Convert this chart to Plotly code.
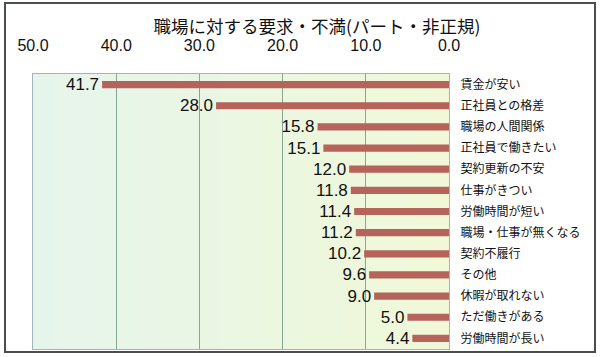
import plotly.graph_objects as go

categories = ["賃金が安い", "正社員との格差", "職場の人間関係", "正社員で働きたい", "契約更新の不安",
              "仕事がきつい", "労働時間が短い", "職場・仕事が無くなる", "契約不履行", "その他",
              "休暇が取れない", "ただ働きがある", "労働時間が長い"]
values = [41.7, 28.0, 15.8, 15.1, 12.0, 11.8, 11.4, 11.2, 10.2, 9.6, 9.0, 5.0, 4.4]
tick_vals = [50, 40, 30, 20, 10, 0]
tick_text = ["50.0", "40.0", "30.0", "20.0", "10.0", "0.0"]
title_text = "職場に対する要求・不満(パート・非正規)"

W, H = 600, 357
L, R, T, B = 33, 151, 74, 8
pw, ph = W - L - R, H - T - B

fig = go.Figure()
fig.add_trace(go.Bar(
    x=values, y=categories, orientation="h",
    marker=dict(color="#b5635b", line=dict(width=0)),
    width=0.34,
    text=[f"{v:.1f}" for v in values], textposition="outside",
    constraintext="none",
    textfont=dict(family="Liberation Sans, Arial", size=17, color="#111"),
    cliponaxis=False,
))

def px2paper_x(px):
    return (px - L) / pw

def px2paper_y(py):
    return 1 - (py - T) / ph

# background gradient (bluish-green left -> yellowish-green right)
c0 = (230, 245, 236)
c1 = (240, 248, 216)
n = 20
for i in range(n):
    t = i / (n - 1)
    col = tuple(round(c0[k] + (c1[k] - c0[k]) * t) for k in range(3))
    fig.add_shape(type="rect", xref="paper", yref="paper",
                  x0=i / n, x1=(i + 1) / n + 0.002, y0=0, y1=1,
                  line=dict(width=0), fillcolor="rgb(%d,%d,%d)" % col, layer="below")

fig.add_shape(type="rect", xref="paper", yref="paper",
              x0=px2paper_x(5), x1=px2paper_x(595), y0=px2paper_y(352), y1=px2paper_y(3),
              line=dict(color="#4a4f4c", width=2), fillcolor="rgba(0,0,0,0)", layer="above")

fig.update_layout(
    width=W, height=H,
    margin=dict(l=L, r=R, t=T, b=B),
    paper_bgcolor="white",
    plot_bgcolor="#eaf6e2",
    showlegend=False,
    title=dict(text=title_text, x=317 / W, xanchor="center",
               y=1 - 27 / H, yanchor="middle",
               font=dict(family="Noto Sans CJK JP", size=17.5, color="#111")),
    xaxis=dict(side="top", range=[50, 0], tickvals=tick_vals, ticktext=tick_text,
               showgrid=True, gridcolor="#86a592", gridwidth=1,
               zeroline=False, showline=True, linecolor="#9fb6bb", linewidth=1, mirror=True,
               ticks="", ticklabelstandoff=16,
               tickfont=dict(family="Liberation Sans, Arial", size=16, color="#111")),
    yaxis=dict(side="right", autorange="reversed", showgrid=False, zeroline=False,
               showline=True, linecolor="#9fb6bb", linewidth=1, mirror=True,
               ticks="", ticklabelstandoff=8,
               tickfont=dict(family="Noto Sans CJK JP", size=12, color="#111")),
)

fig.write_html("out.html", config={"displayModeBar": False},
               post_script="document.body.style.margin='0';window.dispatchEvent(new Event('resize'));")
